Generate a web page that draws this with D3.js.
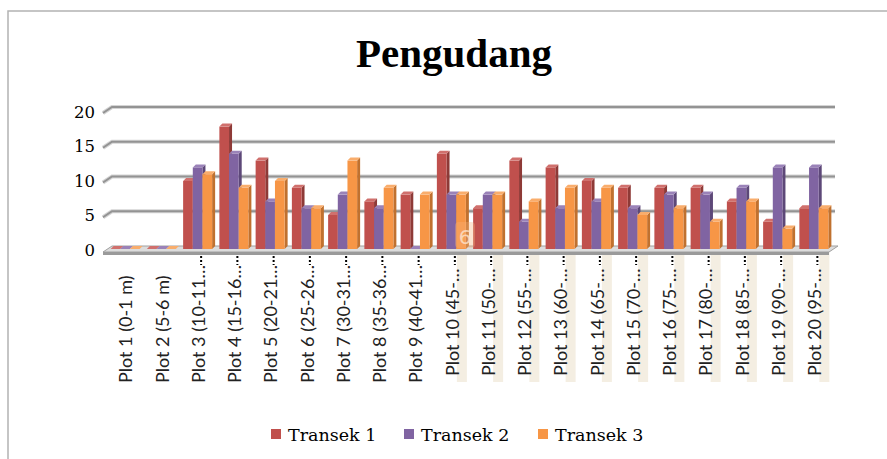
<!DOCTYPE html>
<html>
<head>
<meta charset="utf-8">
<script src="https://cdn.jsdelivr.net/npm/d3@7/dist/d3.min.js"></script>
<style>
  body { margin: 0; background: #fff; }
  svg { display: block; }
</style>
</head>
<body>
<div id="chart"></div>
<script>
const plots = ['Plot 1 (0-1 m)', 'Plot 2 (5-6 m)', 'Plot 3 (10-11…', 'Plot 4 (15-16…', 'Plot 5 (20-21…',
  'Plot 6 (25-26…', 'Plot 7 (30-31…', 'Plot 8 (35-36…', 'Plot 9 (40-41…', 'Plot 10 (45-…',
  'Plot 11 (50-…', 'Plot 12 (55-…', 'Plot 13 (60-…', 'Plot 14 (65-…', 'Plot 15 (70-…',
  'Plot 16 (75-…', 'Plot 17 (80-…', 'Plot 18 (85-…', 'Plot 19 (90-…', 'Plot 20 (95-…']
const seriesNames = ['Transek 1', 'Transek 2', 'Transek 3']
const transek1 = [0, 0, 10, 18, 13, 9, 5, 7, 8, 14, 6, 13, 12, 10, 9, 9, 9, 7, 4, 6]
const transek2 = [0, 0, 12, 14, 7, 6, 8, 6, 0, 8, 8, 4, 6, 7, 6, 8, 8, 9, 12, 12]
const transek3 = [0, 0, 11, 9, 10, 6, 13, 9, 8, 8, 8, 7, 9, 9, 5, 6, 4, 7, 3, 6]
const yTicks = [0, 5, 10, 15, 20]

const colors = ['#c0504d', '#8064a2', '#f79646']
const sides = ['#8e3a37', '#5d4878', '#c0712f']
const tops = ['#d0706d', '#9a82b8', '#f9ad6c']

const width = 887
const height = 459
const svg = d3.select('#chart').append('svg')
  .attr('width', width)
  .attr('height', height)

// chart frame
svg.append('rect')
  .attr('x', 8).attr('y', 11)
  .attr('width', 900).attr('height', 470)
  .attr('fill', 'none')
  .attr('stroke', '#b3b3b3')
  .attr('stroke-width', 1.5)

svg.append('text')
  .attr('x', 454).attr('y', 67)
  .attr('text-anchor', 'middle')
  .style('font-family', 'Liberation Serif')
  .style('font-weight', 'bold')
  .style('font-size', '41px')
  .text('Pengudang')

const depthY = 6
const x = d3.scaleBand().domain(plots).range([107, 832]).paddingInner(0.2).paddingOuter(0.1)
const xs = d3.scaleBand().domain(seriesNames).range([0, x.bandwidth()])
const yBack = d3.scaleLinear().domain([0, 20]).range([246, 107])
const yFront = d3.scaleLinear().domain([0, 20]).range([249, 113])
const yLabel = d3.scaleLinear().domain([0, 20]).range([250, 112])

// beige stripes under the later labels
svg.append('g').selectAll('rect').data(plots.slice(9)).enter().append('rect')
  .attr('x', d => x(d) + x.bandwidth() / 2 + 5.5)
  .attr('y', 252)
  .attr('width', 10)
  .attr('height', 130)
  .attr('fill', '#f4eee2')

// back wall gridlines
let grid = svg.append('g')
grid.selectAll('path').data(yTicks.slice(1)).enter().append('path')
  .attr('d', d => `M103,${yBack(d) + depthY}L112,${yBack(d)}L835,${yBack(d)}`)
  .attr('fill', 'none')
  .attr('stroke', '#d4d4d4')
  .attr('stroke-width', 4)
grid.selectAll('.line').data(yTicks.slice(1)).enter().append('path')
  .attr('class', 'line')
  .attr('d', d => `M103,${yBack(d) + depthY}L112,${yBack(d)}L835,${yBack(d)}`)
  .attr('fill', 'none')
  .attr('stroke', '#939393')
  .attr('stroke-width', 2)

// floor slab
let floor = svg.append('g')
floor.append('polygon')
  .attr('points', `103,252 112,246 838,246 829,252`)
  .attr('fill', '#dcdcdc')
  .attr('stroke', '#a0a0a0')
  .attr('stroke-width', 1)
floor.append('rect')
  .attr('x', 103).attr('y', 252).attr('width', 726).attr('height', 3)
  .attr('fill', '#9a9a9a')

svg.append('g').selectAll('text').data(yTicks).enter().append('text')
  .attr('x', 95)
  .attr('y', d => yLabel(d))
  .attr('dy', '0.35em')
  .attr('text-anchor', 'end')
  .style('font-family', 'DejaVu Serif')
  .style('font-size', '16.5px')
  .text(d => d)

// bars
let barData = []
let allSeries = [transek1, transek2, transek3]
plots.forEach((p, i) => {
  allSeries.forEach((s, k) => barData.push({plot: p, series: seriesNames[k], k, value: s[i]}))
})
const dx = 3
const dy = 3
let bars = svg.append('g').selectAll('g').data(barData).enter().append('g')
bars.each(function (d) {
  let g = d3.select(this)
  let x0 = x(d.plot) + xs(d.series)
  let w = xs.bandwidth()
  let top = yFront(d.value)
  let base = yFront(0)
  g.append('polygon')
    .attr('points', `${x0 + w},${top} ${x0 + w + dx},${top - dy} ${x0 + w + dx},${base - dy} ${x0 + w},${base}`)
    .attr('fill', sides[d.k])
  g.append('rect')
    .attr('x', x0).attr('y', top)
    .attr('width', w).attr('height', base - top)
    .attr('fill', colors[d.k])
  g.append('polygon')
    .attr('points', `${x0},${top} ${x0 + dx},${top - dy} ${x0 + w + dx},${top - dy} ${x0 + w},${top}`)
    .attr('fill', tops[d.k])
})

// faint data label artifact
svg.append('rect')
  .attr('x', 455).attr('y', 222).attr('width', 20).attr('height', 26).attr('rx', 4)
  .attr('fill', '#f7b27a').attr('opacity', 0.35)
svg.append('text')
  .attr('x', 465).attr('y', 244)
  .attr('text-anchor', 'middle')
  .style('font-family', 'DejaVu Sans')
  .style('font-size', '20px')
  .attr('fill', '#fbe2cc').attr('opacity', 0.8)
  .text('6')

// dotted tick marks
svg.append('g').selectAll('line').data(plots.slice(2)).enter().append('line')
  .attr('x1', d => x(d) + x.bandwidth() / 2 + 3.5)
  .attr('x2', d => x(d) + x.bandwidth() / 2 + 3.5)
  .attr('y1', 256).attr('y2', 265)
  .attr('stroke', '#000')
  .attr('stroke-width', 2)
  .attr('stroke-dasharray', '2,2')

// category labels
svg.append('g').selectAll('text').data(plots).enter().append('text')
  .attr('transform', (d, i) => `translate(${x(d) + x.bandwidth() / 2 + 1},${i < 9 ? 383 : 376}) rotate(-90)`)
  .attr('dy', '0.35em')
  .attr('text-anchor', 'start')
  .style('font-family', 'Lato')
  .style('font-size', '18px')
  .attr('fill', '#222')
  .text(d => d)

// legend
let legend = svg.append('g')
const legendX = [271, 404, 538]
seriesNames.forEach((s, k) => {
  legend.append('rect')
    .attr('x', legendX[k]).attr('y', 429).attr('width', 10).attr('height', 10)
    .attr('fill', colors[k])
  legend.append('text')
    .attr('x', legendX[k] + 17).attr('y', 441)
    .style('font-family', 'DejaVu Serif')
    .style('font-size', '17.5px')
    .text(s)
})
</script>
</body>
</html>
